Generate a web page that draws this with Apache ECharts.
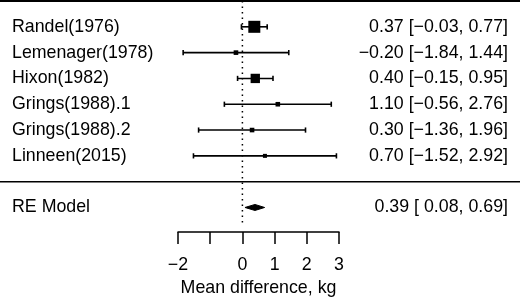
<!DOCTYPE html>
<html>
<head>
<meta charset="utf-8">
<script src="https://cdn.jsdelivr.net/npm/echarts@6/dist/echarts.min.js"></script>
<style>
  html, body { margin: 0; padding: 0; background: #fff; }
  #chart { width: 520px; height: 308px; }
</style>
</head>
<body>
<div id="chart"></div>
<script>
// studies, top to bottom
const studies = ['Randel(1976)', 'Lemenager(1978)', 'Hixon(1982)', 'Grings(1988).1', 'Grings(1988).2', 'Linneen(2015)']
const rows = [6, 5, 4, 3, 2, 1]
const estimate = [0.37, -0.20, 0.40, 1.10, 0.30, 0.70]
const lower = [-0.03, -1.84, -0.15, -0.56, -1.36, -1.52]
const upper = [0.77, 1.44, 0.95, 2.76, 1.96, 2.92]

// pooled random-effects result
const reLabel = 'RE Model'
const reRow = -1
const reValues = [0.39, 0.08, 0.69] // estimate, lower, upper

const xTicks = [-2, -1, 0, 1, 2, 3]
const tickLabels = ['\u22122', '', '0', '1', '2', '3']
const xName = 'Mean difference, kg'

const FONT = "'Liberation Sans', Arial, Helvetica, sans-serif"
const FS = 17.8

function num(v) {
  return (v < 0 ? '\u2212' : '') + Math.abs(v).toFixed(2)
}
function ciText(e, lo, hi) {
  // metafor pads a positive lower bound with a space
  return num(e) + ' [' + (lo < 0 ? '' : ' ') + num(lo) + ', ' + num(hi) + ']'
}

// square size from inverse standard error (metafor style)
const invSe = lower.map((lo, i) => 1 / ((upper[i] - lo) / (2 * 1.96)))
const wMin = Math.min(...invSe)
const wMax = Math.max(...invSe)
const sqSize = (i) => 4 + (invSe[i] - wMin) / (wMax - wMin) * 8

const chart = echarts.init(document.getElementById('chart'))

const option = {
  backgroundColor: '#fff',
  animation: false,
  grid: { left: 178, right: 181, top: 1, bottom: 76 },
  xAxis: {
    type: 'value',
    min: -2,
    max: 3,
    interval: 1,
    splitLine: { show: false },
    axisLine: { show: true, onZero: false, lineStyle: { color: '#000', width: 1.5 } },
    axisTick: { show: true, length: 12, inside: false, lineStyle: { color: '#000', width: 1.5 } },
    axisLabel: {
      color: '#000', fontFamily: FONT, fontSize: FS, margin: 24,
      formatter: (v) => tickLabels[xTicks.indexOf(v)]
    },
    name: xName,
    nameLocation: 'middle',
    nameGap: 46,
    nameTextStyle: { color: '#000', fontFamily: FONT, fontSize: FS }
  },
  yAxis: { type: 'value', min: -1.95, max: 7, show: false },
  series: [
    {
      // horizontal rules across the whole figure
      type: 'custom',
      data: [[7], [0]],
      renderItem: (params, api) => {
        const y = api.coord([0, api.value(0)])[1]
        return {
          type: 'line',
          shape: { x1: 0, y1: y, x2: api.getWidth(), y2: y },
          style: { stroke: '#000', lineWidth: api.value(0) === 7 ? 2 : 1.5 }
        }
      }
    },
    {
      // dotted reference line at 0
      type: 'custom',
      data: [[0]],
      renderItem: (params, api) => {
        const a = api.coord([api.value(0), 7])
        const b = api.coord([api.value(0), -1.72])
        return {
          type: 'line',
          shape: { x1: a[0], y1: a[1], x2: b[0], y2: b[1] },
          style: { stroke: '#000', lineWidth: 1.5, lineDash: [1.5, 4] }
        }
      }
    },
    {
      // study CIs, squares and labels
      type: 'custom',
      data: studies.map((s, i) => [estimate[i], lower[i], upper[i], rows[i], i]),
      renderItem: (params, api) => {
        const i = api.value(4)
        const row = api.value(3)
        const pE = api.coord([api.value(0), row])
        const pL = api.coord([api.value(1), row])
        const pH = api.coord([api.value(2), row])
        const y = pE[1]
        const s = sqSize(i)
        const st = { stroke: '#000', lineWidth: 1.6 }
        return {
          type: 'group',
          children: [
            { type: 'line', shape: { x1: pL[0], y1: y, x2: pH[0], y2: y }, style: st },
            { type: 'line', shape: { x1: pL[0], y1: y - 2.6, x2: pL[0], y2: y + 2.6 }, style: st },
            { type: 'line', shape: { x1: pH[0], y1: y - 2.6, x2: pH[0], y2: y + 2.6 }, style: st },
            { type: 'rect', shape: { x: pE[0] - s / 2, y: y - s / 2, width: s, height: s }, style: { fill: '#000' } },
            {
              type: 'text', x: 12, y: y,
              style: { text: studies[i], fill: '#000', font: FS + 'px ' + FONT, textAlign: 'left', textVerticalAlign: 'middle' }
            },
            {
              type: 'text', x: api.getWidth() - 12, y: y,
              style: { text: ciText(estimate[i], lower[i], upper[i]), fill: '#000', font: FS + 'px ' + FONT, textAlign: 'right', textVerticalAlign: 'middle' }
            }
          ]
        }
      }
    },
    {
      // pooled diamond
      type: 'custom',
      data: [[reValues[0], reValues[1], reValues[2], reRow]],
      renderItem: (params, api) => {
        const row = api.value(3)
        const pE = api.coord([api.value(0), row])
        const pL = api.coord([api.value(1), row])
        const pH = api.coord([api.value(2), row])
        const y = pE[1]
        return {
          type: 'group',
          children: [
            {
              type: 'polygon',
              shape: { points: [[pL[0], y], [pE[0], y - 3], [pH[0], y], [pE[0], y + 3]] },
              style: { fill: '#000', stroke: '#000', lineWidth: 1 }
            },
            {
              type: 'text', x: 12, y: y,
              style: { text: reLabel, fill: '#000', font: FS + 'px ' + FONT, textAlign: 'left', textVerticalAlign: 'middle' }
            },
            {
              type: 'text', x: api.getWidth() - 12, y: y,
              style: { text: ciText(reValues[0], reValues[1], reValues[2]), fill: '#000', font: FS + 'px ' + FONT, textAlign: 'right', textVerticalAlign: 'middle' }
            }
          ]
        }
      }
    }
  ]
}

chart.setOption(option)
window.onresize = chart.resize
</script>
</body>
</html>
